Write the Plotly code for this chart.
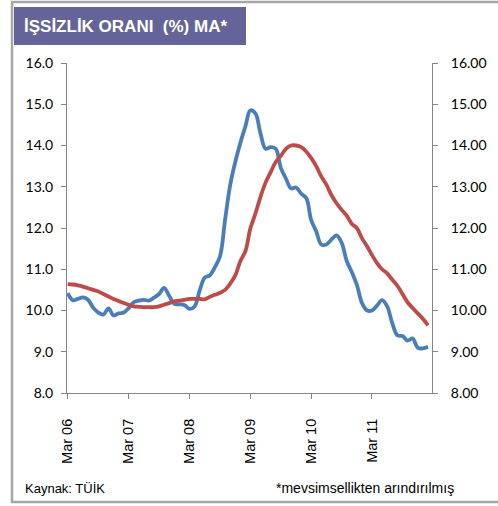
import pandas as pd
import plotly.graph_objects as go

# Monthly values, Mar 2006 .. Feb 2012
months = pd.date_range("2006-03-01", periods=72, freq="MS")

unemployment = [
    10.42, 10.25, 10.28, 10.32, 10.26, 10.07, 9.95, 9.90, 10.05, 9.88, 9.93, 9.95,
    10.05, 10.20, 10.24, 10.26, 10.24, 10.31, 10.40, 10.55, 10.35, 10.16, 10.15, 10.13,
    10.04, 10.10, 10.48, 10.80, 10.85, 11.05, 11.32, 12.20, 13.05, 13.60, 14.07, 14.48,
    14.85, 14.78, 14.30, 13.92, 13.96, 13.92, 13.45, 13.20, 12.96, 12.98, 12.83, 12.72,
    12.20, 11.92, 11.60, 11.60, 11.72, 11.82, 11.64, 11.20, 10.93, 10.62, 10.18, 10.00,
    10.00, 10.12, 10.25, 10.10, 9.70, 9.40, 9.38, 9.27, 9.32, 9.10, 9.08, 9.12,
]

moving_avg = [
    10.64, 10.63, 10.61, 10.58, 10.54, 10.50, 10.46, 10.40, 10.34, 10.28, 10.23, 10.18,
    10.14, 10.10, 10.09, 10.08, 10.08, 10.08, 10.10, 10.14, 10.18, 10.22, 10.24, 10.26,
    10.28, 10.28, 10.28, 10.27, 10.33, 10.38, 10.43, 10.50, 10.65, 10.85, 11.20, 11.45,
    11.98, 12.35, 12.75, 13.10, 13.35, 13.60, 13.75, 13.92, 14.00, 14.00, 13.96, 13.85,
    13.70, 13.50, 13.25, 13.05, 12.80, 12.60, 12.44, 12.30, 12.10, 12.00, 11.75, 11.55,
    11.35, 11.15, 11.00, 10.90, 10.75, 10.60, 10.40, 10.20, 10.06, 9.93, 9.80, 9.64,
]

W, H = 498, 506
L, R, T, B = 67, 432, 63, 393  # plot area in pixels


def px_x(p):
    return (p - L) / (R - L)


def px_y(p):
    return (B - p) / (B - T)


axis_grey = "#868686"
num_font = dict(family="Lato, Liberation Sans", size=14, color="black")
fig = go.Figure()

fig.add_trace(go.Scatter(
    x=months, y=unemployment, mode="lines", line=dict(color="#4A7EBB", width=3.8, shape="spline"),
    showlegend=False,
))
fig.add_trace(go.Scatter(
    x=months, y=moving_avg, mode="lines", yaxis="y2",
    line=dict(color="#BE4B48", width=3.8, shape="spline"), showlegend=False,
))

fig.update_layout(
    width=W, height=H,
    margin=dict(l=L, r=W - R, t=T, b=H - B),
    paper_bgcolor="white", plot_bgcolor="white",
    xaxis=dict(
        range=["2006-02-25", "2012-02-25"], tick0="2006-03-01", dtick="M12", tickformat="%b %y",
        tickangle=-90, ticks="outside", ticklen=5, tickcolor=axis_grey, showline=True,
        linecolor=axis_grey, linewidth=1, showgrid=False, zeroline=False, ticklabelstandoff=14,
        tickfont=dict(family="Liberation Sans, Arial", size=14.5, color="black"),
    ),
    yaxis=dict(
        range=[8, 16], dtick=1, tickformat=".1f", ticks="outside", ticklen=5, tickcolor=axis_grey,
        showline=True, linecolor=axis_grey, linewidth=1, showgrid=False, zeroline=False,
        tickfont=num_font, ticklabelstandoff=5,
    ),
    yaxis2=dict(
        range=[8, 16], dtick=1, tickformat=".2f", overlaying="y", side="right", ticks="outside",
        ticklen=5, tickcolor=axis_grey, showline=True, linecolor=axis_grey, linewidth=1,
        showgrid=False, zeroline=False, tickfont=num_font, ticklabelstandoff=10,
    ),
)

# outer frame and title box
fig.add_shape(type="rect", xref="paper", yref="paper", layer="below",
              x0=px_x(12), x1=px_x(502), y0=px_y(502), y1=px_y(2),
              line=dict(color="#A6A6A6", width=2.5), fillcolor="rgba(0,0,0,0)")
fig.add_shape(type="rect", xref="paper", yref="paper",
              x0=px_x(14), x1=px_x(246), y0=px_y(45), y1=px_y(7),
              line=dict(width=0), fillcolor="#656499")
fig.add_annotation(xref="paper", yref="paper", x=px_x(22), y=px_y(26), xanchor="left",
                   yanchor="middle", showarrow=False, text="<b>İŞSİZLİK ORANI  (%) MA*</b>",
                   font=dict(family="Liberation Sans, Arial", size=17, color="white"))

fig.add_annotation(xref="paper", yref="paper", x=px_x(23), y=px_y(488), xanchor="left",
                   yanchor="middle", showarrow=False, text="Kaynak: TÜİK",
                   font=dict(family="Liberation Sans, Arial", size=13, color="black"))
fig.add_annotation(xref="paper", yref="paper", x=px_x(456), y=px_y(488), xanchor="right",
                   yanchor="middle", showarrow=False, text="*mevsimsellikten arındırılmış",
                   font=dict(family="Liberation Sans, Arial", size=14, color="black"))

fig.write_html("out.html", config={"displayModeBar": False},
               post_script="document.body.style.margin='0';")
